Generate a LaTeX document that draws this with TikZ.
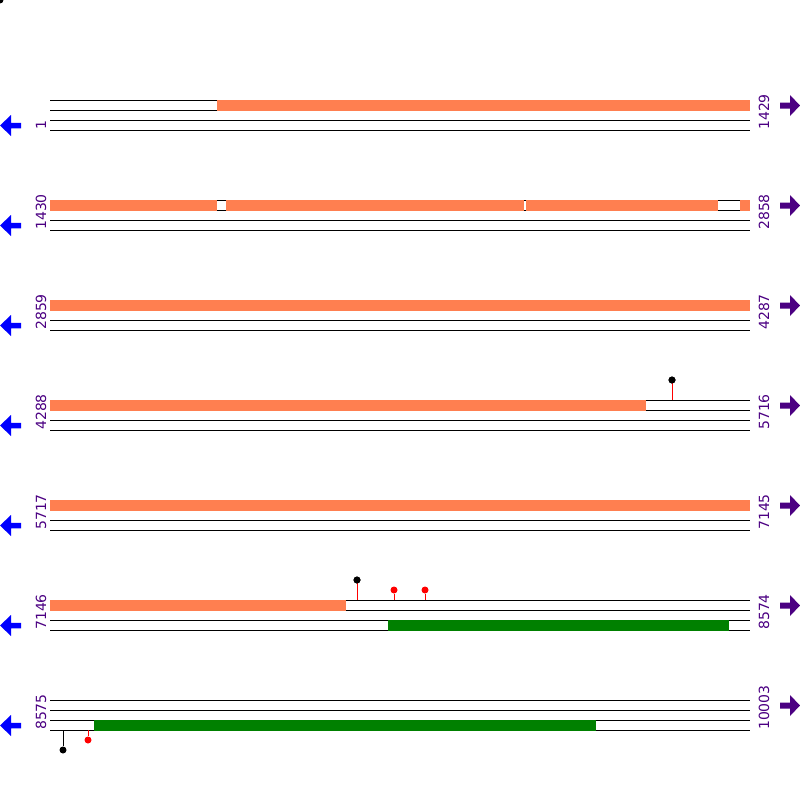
\documentclass[tikz,border=0pt]{standalone}
\usepackage{fontspec}
\setmainfont{DejaVu Sans}
\definecolor{orfcol}{RGB}{255,127,80}
\definecolor{indcol}{RGB}{75,0,130}
\definecolor{grncol}{RGB}{0,128,0}
\begin{document}
\begin{tikzpicture}[x=1pt,y=-1pt,
  frameline/.style={black,line width=1pt},
  orfbar/.style={fill=orfcol},
  grnbar/.style={fill=grncol},
  numlab/.style={text=indcol,inner sep=0pt,rotate=90,anchor=base west,font=\fontsize{14}{14}\selectfont},
  stick/.style={red,line width=1pt},
  blackdot/.style={circle,fill=black,inner sep=0pt,minimum size=7pt},
  reddot/.style={circle,fill=red,inner sep=0pt,minimum size=7pt}]
\useasboundingbox (0,0) rectangle (800,800);
\begin{scope}
  \clip (0,0) rectangle (800,800);
  \fill[black] (0,0) circle (3.5);
\end{scope}
\foreach \i/\l/\r in {0/1/1429,1/1430/2858,2/2859/4287,3/4288/5716,4/5717/7145,5/7146/8574,6/8575/10003}{
  \begin{scope}[shift={(0,100+100*\i)}]
    \foreach \d in {0,10,20,30} \draw[frameline] (50,\d) -- (750,\d);
    \node[numlab] (L\i) at (46,30) {\l};
    \node[numlab] (R\i) at (769,30) {\r};
    \fill[blue] (0,25.5) -- (11,15) -- (11,22.75) -- (21,22.75) -- (21,28.25) -- (11,28.25) -- (11,36) -- cycle;
    \fill[indcol] (800,5.5) -- (790,-5) -- (790,2.5) -- (780,2.5) -- (780,8.5) -- (790,8.5) -- (790,16) -- cycle;
  \end{scope}
}
% row 1
\fill[orfbar] (217,99.5) rectangle (750,110.5);
% row 2
\fill[orfbar] (50,199.5) rectangle (217,210.5);
\fill[orfbar] (226,199.5) rectangle (523.5,210.5);
\fill[orfbar] (526,199.5) rectangle (718,210.5);
\fill[orfbar] (740,199.5) rectangle (750,210.5);
% row 3
\fill[orfbar] (50,299.5) rectangle (750,310.5);
% row 4
\fill[orfbar] (50,399.5) rectangle (646,410.5);
\coordinate (p1) at (672,400);
\node[blackdot] (d1) at (672,380) {};
\draw[stick] (p1) -- (d1.center);
\fill[black] (d1.center) circle (3.5);
% row 5
\fill[orfbar] (50,499.5) rectangle (750,510.5);
% row 6
\fill[orfbar] (50,599.5) rectangle (346,610.5);
\fill[grnbar] (388,619.5) rectangle (729,630.5);
\coordinate (p2) at (357,600);
\node[blackdot] (d2) at (357,580) {};
\draw[stick] (p2) -- (d2.center);
\fill[black] (d2.center) circle (3.5);
\coordinate (p3) at (394,600);
\node[reddot] (d3) at (394,590) {};
\draw[stick] (p3) -- (d3);
\coordinate (p4) at (425,600);
\node[reddot] (d4) at (425,590) {};
\draw[stick] (p4) -- (d4);
% row 7
\fill[grnbar] (94,719.5) rectangle (596,730.5);
\coordinate (p5) at (63,730);
\node[blackdot] (d5) at (63,750) {};
\draw[frameline] (p5) -- (d5);
\coordinate (p6) at (88,730);
\node[reddot] (d6) at (88,740) {};
\draw[stick] (p6) -- (d6);
\end{tikzpicture}
\end{document}
